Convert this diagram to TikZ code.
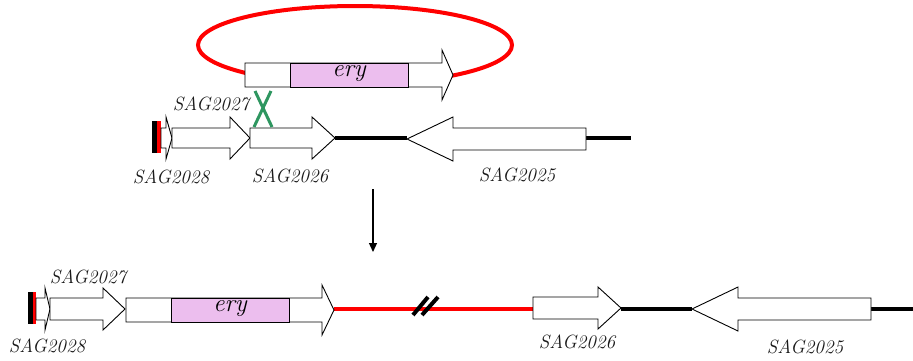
\documentclass[tikz,border=0pt]{standalone}
\usepackage{fontspec}
\usetikzlibrary{arrows.meta}
\definecolor{pinkery}{RGB}{236,190,238}
\definecolor{xgreen}{RGB}{46,150,96}
\definecolor{redline}{RGB}{255,0,0}
\newcommand\genearrow[7][]{%
  \draw[genebox,#1] (#2,#5-#6) -- (#3,#5-#6) -- (#3,#5-#7) -- (#4,#5) -- (#3,#5+#7) -- (#3,#5+#6) -- (#2,#5+#6) -- cycle;}
\begin{document}
\begin{tikzpicture}[x=1pt,y=-1pt,
  genebox/.style={draw=black,fill=white,line width=0.9pt,line join=miter},
  dna/.style={line width=4pt},
  lbl/.style={font=\fontsize{19.2}{21}\selectfont\itshape,text=black!90,inner sep=0pt},
  erylbl/.style={font=\fontsize{25}{26}\selectfont\itshape,inner sep=0pt}]
\useasboundingbox (0,0) rectangle (913,360);

% ---------- plasmid ----------
\draw[redline,line width=4pt] (355,45) ellipse [x radius=157, y radius=39];
\genearrow{245}{442}{453}{75}{12}{25}
\draw[genebox,fill=pinkery] (290,63) rectangle (408,87);
\node[erylbl] (ery1) at (349,74) {ery};

% ---------- chromosome (top) ----------
\draw[dna] (335,138) -- (407,138);
\draw[dna] (586,138) -- (631,138);
\fill[black] (152,121) rectangle (157,153);
\fill[redline] (157,121) rectangle (161,153);
\genearrow{161}{166}{172}{138}{10}{21}
\genearrow{172}{230}{250}{138}{10}{21}
\genearrow{250}{312}{335}{138}{10}{21}
\genearrow{586}{453}{407}{139}{11}{22}
\draw[xgreen,line width=3pt] (255,91) -- (272,127) (271,91) -- (254,127);

\node[lbl] (t2027) at (211,104) {SAG2027};
\node[lbl] (t2028) at (171,177) {SAG2028};
\node[lbl] (t2026) at (290,176) {SAG2026};
\node[lbl] (t2025) at (517,175) {SAG2025};

% ---------- down arrow ----------
\coordinate (a1) at (373,189);
\coordinate (a2) at (373,252);
\draw[line width=1.2pt,-{Triangle[length=9pt,width=8pt]}] (a1) -- (a2);

% ---------- chromosome (bottom) ----------
\draw[redline,dna] (334,309) -- (533,309);
\draw[dna] (621,309) -- (692,309);
\draw[dna] (871,309) -- (913,309);
\draw[line width=4pt] (413,315) -- (428,297);
\draw[line width=4pt] (422,315) -- (438,297);
\fill[black] (28,292) rectangle (33,324);
\fill[redline] (33,292) rectangle (36,324);
\genearrow{36}{45}{50}{309}{11}{21}
\genearrow{50}{103}{125}{309}{11}{21}
\genearrow{126}{322}{334}{310}{12}{25}
\draw[genebox,fill=pinkery] (171,298) rectangle (289,322);
\node[erylbl] (ery2) at (230,309) {ery};
\genearrow{533}{598}{621}{308}{11}{21}
\genearrow{871}{738}{692}{309}{11}{22}

\node[lbl] (b2027) at (88,277) {SAG2027};
\node[lbl] (b2028) at (47,346) {SAG2028};
\node[lbl] (b2026) at (577,342) {SAG2026};
\node[lbl] (b2025) at (805,347) {SAG2025};
\end{tikzpicture}
\end{document}
